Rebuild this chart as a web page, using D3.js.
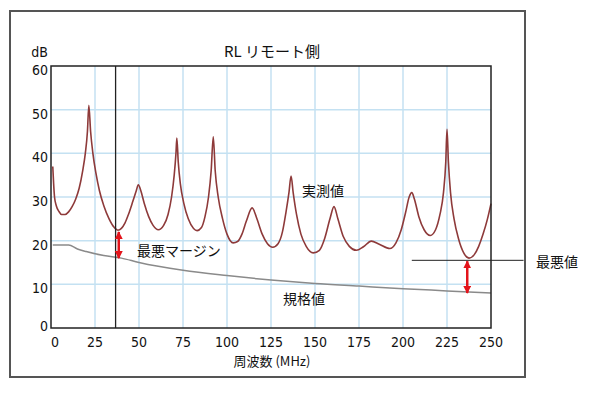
<!DOCTYPE html>
<html>
<head>
<meta charset="utf-8">
<script src="https://cdn.jsdelivr.net/npm/d3@7"></script>
<style>
  body { margin: 0; background: #fff; }
  .num { font-family: "DejaVu Sans Condensed", "DejaVu Sans", sans-serif; font-stretch: condensed; font-size: 14px; fill: #111; }
  .jp { font-family: "Noto Sans CJK JP", sans-serif; font-size: 14px; fill: #111; }
</style>
</head>
<body>
<div id="chart"></div>
<script>
// 実測値 (MHz, dB)
const measured = [
  [1, 37], [1.5, 33], [2, 30], [3, 28], [4.5, 26.7], [6, 26], [8, 26], [10, 26.6],
  [12, 27.8], [14, 29.5], [16, 32], [18, 36], [19.5, 40], [20.7, 45], [21.5, 51],
  [22.5, 45], [23.8, 40], [25.5, 35.5], [27.5, 31.5], [30, 28], [33, 25], [36, 23],
  [38, 22.4], [40, 22.8], [42, 24], [44, 26], [46.5, 29], [48.5, 31.5], [49.6, 32.8],
  [51, 31.5], [53, 28.5], [55.5, 25.5], [58, 23.5], [61, 22.5], [64, 23.5], [66.5, 26],
  [68.5, 30], [70, 35], [71, 40], [71.5, 43.5], [72.3, 38], [73.5, 33], [75.5, 28.5],
  [78, 25], [81, 22.8], [83, 22.3], [85.5, 23], [87.5, 25.5], [89.5, 30], [91, 36],
  [92.2, 43.8], [93.3, 36], [95, 30], [97.5, 25], [100, 21.5], [103.5, 19.5], [106, 19.8],
  [108.5, 21.5], [111, 24.5], [114.3, 27.5], [117, 25], [120, 21.5], [123, 19.3],
  [126, 18.5], [129, 19.3], [131.5, 22], [133.5, 26.5], [135.2, 31], [136.4, 34.8],
  [137.6, 31], [139.5, 26], [142, 21.5], [145, 18.7], [149, 17.2], [152.5, 17.8],
  [155.5, 20.5], [158.5, 25], [160.8, 27.8], [163, 25], [166, 21], [169.5, 18.7],
  [173.5, 17.8], [177.5, 18.6], [182, 19.9], [186.5, 19.2], [192.5, 18.2], [196, 19.5],
  [199, 22.5], [201.5, 26.5], [203.5, 30], [205, 31], [206.5, 29.5], [209, 25.5],
  [212, 22.5], [215.5, 21.2], [218.5, 22.5], [221, 26], [223, 31], [224.3, 38],
  [225, 45.5], [225.8, 38], [227, 31], [229, 25], [231.5, 20.5], [234.5, 17.2],
  [237.5, 16], [240.5, 16.8], [243, 18.7], [245.5, 21.5], [248, 25], [250, 28.5]
];

// 規格値 (MHz, dB)
const limit = [
  [1, 19], [10, 19], [15, 18.1], [20, 17.5], [30, 16.6], [40, 16], [50, 15],
  [75, 13.2], [100, 12], [125, 11], [150, 10.2], [175, 9.6], [200, 9], [225, 8.5], [250, 8]
];

const xTicks = [0, 25, 50, 75, 100, 125, 150, 175, 200, 225, 250];
const yTicks = [0, 10, 20, 30, 40, 50, 60];

// 最悪マージン / 最悪値
const worstFreq = 36.7;
const marginArrow = { f: 38.5, top: 22.0, bottom: 16.0 };
const worstArrow = { f: 236.5, top: 15.3, bottom: 8.0 };
const worstLevel = { from: 205, to: 268.5, value: 15.5 };

const width = 591, height = 393;
const margin = { top: 66, right: 100, bottom: 65, left: 51 };

const svg = d3.select("#chart").append("svg")
  .attr("width", width)
  .attr("height", height);

// 外枠
svg.append("rect")
  .attr("x", 10).attr("y", 11)
  .attr("width", 515).attr("height", 366)
  .attr("fill", "#fff")
  .attr("stroke", "#555")
  .attr("stroke-width", 2);

const x = d3.scaleLinear().domain([0, 250]).range([margin.left, width - margin.right]);
const y = d3.scaleLinear().domain([0, 60]).range([height - margin.bottom, margin.top]);

// grid
svg.append("g")
  .selectAll("line")
  .data(xTicks.slice(1, -1))
  .join("line")
  .attr("x1", d => x(d)).attr("x2", d => x(d))
  .attr("y1", y(60)).attr("y2", y(0))
  .attr("stroke", "#c4e1f2")
  .attr("stroke-width", 1.5);

svg.append("g")
  .selectAll("line")
  .data(yTicks.slice(1, -1))
  .join("line")
  .attr("x1", x(0)).attr("x2", x(250))
  .attr("y1", d => y(d)).attr("y2", d => y(d))
  .attr("stroke", "#c4e1f2")
  .attr("stroke-width", 1.5);

// tick labels
svg.append("g")
  .selectAll("text")
  .data(xTicks)
  .join("text")
  .attr("class", "num")
  .attr("x", d => x(d) + (d === 0 ? 4 : 0))
  .attr("y", y(0) + 19)
  .attr("text-anchor", "middle")
  .text(d => d);

svg.append("g")
  .selectAll("text")
  .data(yTicks)
  .join("text")
  .attr("class", "num")
  .attr("x", x(0) - 3)
  .attr("y", d => d === 0 ? y(d) + 3 : y(d) + 9)
  .attr("text-anchor", "end")
  .text(d => d);

svg.append("text")
  .attr("class", "num")
  .attr("x", x(0) - 3)
  .attr("y", 57)
  .attr("text-anchor", "end")
  .text("dB");

svg.append("text")
  .attr("class", "jp")
  .attr("x", 272)
  .attr("y", 57)
  .attr("text-anchor", "middle")
  .style("font-size", "15px")
  .text("RL リモート側");

svg.append("text")
  .attr("class", "jp")
  .attr("x", 272)
  .attr("y", 366)
  .attr("text-anchor", "middle")
  .style("font-size", "13px")
  .text("周波数 (MHz)");

const line = d3.line()
  .x(d => x(d[0]))
  .y(d => y(d[1]))
  .curve(d3.curveMonotoneX);

svg.append("path")
  .datum(limit)
  .attr("fill", "none")
  .attr("stroke", "#8a8a8a")
  .attr("stroke-width", 1.5)
  .attr("d", line);

svg.append("path")
  .datum(measured)
  .attr("fill", "none")
  .attr("stroke", "#8e3a3a")
  .attr("stroke-width", 1.6)
  .attr("d", line);

// plot frame
svg.append("rect")
  .attr("x", x(0)).attr("y", y(60))
  .attr("width", x(250) - x(0)).attr("height", y(0) - y(60))
  .attr("fill", "none")
  .attr("stroke", "#222")
  .attr("stroke-width", 1.5);

// 最悪周波数の縦線
svg.append("line")
  .attr("x1", x(worstFreq)).attr("x2", x(worstFreq))
  .attr("y1", y(60)).attr("y2", y(0))
  .attr("stroke", "#222")
  .attr("stroke-width", 1.3);

// 最悪値の横線
svg.append("line")
  .attr("x1", x(worstLevel.from)).attr("x2", x(worstLevel.to))
  .attr("y1", y(worstLevel.value)).attr("y2", y(worstLevel.value))
  .attr("stroke", "#222")
  .attr("stroke-width", 1);

// red double arrows
const defs = svg.append("defs");
defs.append("marker")
  .attr("id", "head")
  .attr("viewBox", "0 0 10 10")
  .attr("refX", 9).attr("refY", 5)
  .attr("markerWidth", 3.2).attr("markerHeight", 3.2)
  .attr("orient", "auto-start-reverse")
  .append("path")
  .attr("d", "M0,0 L10,5 L0,10 z")
  .attr("fill", "#e3141b");

[marginArrow, worstArrow].forEach(a => {
  svg.append("line")
    .attr("x1", x(a.f)).attr("x2", x(a.f))
    .attr("y1", y(a.top)).attr("y2", y(a.bottom))
    .attr("stroke", "#e3141b")
    .attr("stroke-width", 2.5)
    .attr("marker-start", "url(#head)")
    .attr("marker-end", "url(#head)");
});

// labels
svg.append("text").attr("class", "jp").attr("x", 137).attr("y", 256).text("最悪マージン");
svg.append("text").attr("class", "jp").attr("x", 302).attr("y", 196).text("実測値");
svg.append("text").attr("class", "jp").attr("x", 304).attr("y", 304).attr("text-anchor", "middle").text("規格値");
svg.append("text").attr("class", "jp").attr("x", 536).attr("y", 267).text("最悪値");
</script>
</body>
</html>
